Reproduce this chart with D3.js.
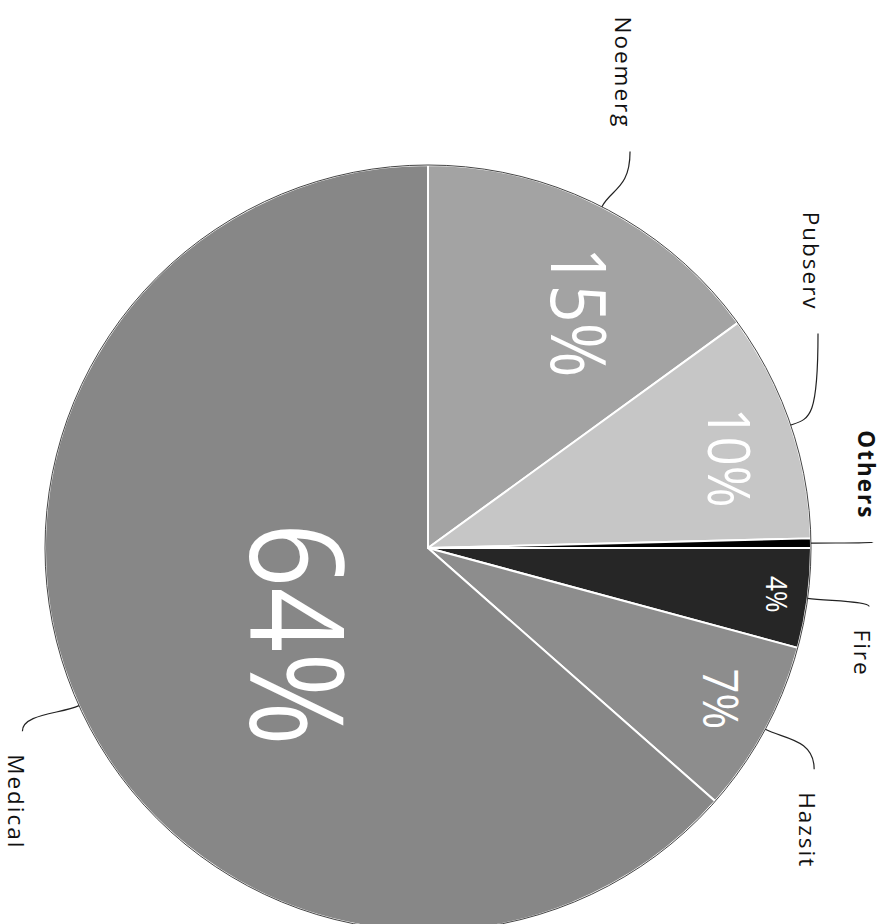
<!DOCTYPE html>
<html>
<head>
<meta charset="utf-8">
<script src="https://cdn.jsdelivr.net/npm/d3@7.9.0/dist/d3.min.js"></script>
<style>
  html, body { margin: 0; background: #fff; }
  svg { display: block; font-family: "Open Sans", sans-serif; }
</style>
</head>
<body>
<div id="chart"></div>
<script>
// slice order, clockwise from 12 o'clock of the (unrotated) pie
const categories = ["Fire", "Hazsit", "Medical", "Noemerg", "Pubserv", "Others"];
const shares = [4.2, 7.3, 63.5, 15.0, 9.6, 0.4];

const width = 883, height = 924;
const cx = 428, cy = 548;
const radius = 383;

const colorScale = d3.scaleOrdinal()
  .domain(categories)
  .range(["#262626", "#8d8d8d", "#878787", "#a3a3a3", "#c6c6c6", "#000000"]);

// placement of the percent labels inside the slices
const pctStyle = {
  Fire:    { r: 0.92, da: 0,   size: 30 },
  Hazsit:  { r: 0.86, da: -1,  size: 50 },
  Medical: { r: 0.41, da: -9,  size: 130 },
  Noemerg: { r: 0.73, da: 5.5, size: 76 },
  Pubserv: { r: 0.82, da: 2,   size: 58 }
};

const data = categories.map((c, i) => ({ name: c, value: shares[i] }));
const total = d3.sum(data, d => d.value);

const svg = d3.select("#chart").append("svg")
  .attr("width", width)
  .attr("height", height);

// whole chart is drawn upright and then turned a quarter clockwise
const g = svg.append("g")
  .attr("transform", `translate(${cx},${cy}) rotate(90)`);

const pie = d3.pie().sort(null).value(d => d.value);
const arcs = pie(data);
const arc = d3.arc().innerRadius(0).outerRadius(radius);

g.selectAll("path.slice")
  .data(arcs)
  .enter()
  .append("path")
  .attr("class", "slice")
  .attr("d", arc)
  .attr("fill", d => colorScale(d.data.name))
  .attr("stroke", "#fff")
  .attr("stroke-width", 2)
  .attr("stroke-linejoin", "round");

// thin dark rim
g.append("circle")
  .attr("r", radius)
  .attr("fill", "none")
  .attr("stroke", "#444")
  .attr("stroke-width", 1);

function polar(a, r) {
  return [r * Math.sin(a), -r * Math.cos(a)];
}

// percent labels
g.selectAll("text.pct")
  .data(arcs.filter(d => pctStyle[d.data.name]))
  .enter()
  .append("text")
  .attr("class", "pct")
  .attr("transform", d => {
    const s = pctStyle[d.data.name];
    const a = (d.startAngle + d.endAngle) / 2 + s.da * Math.PI / 180;
    const [x, y] = polar(a, radius * s.r);
    return `translate(${x},${y}) scale(0.87,1)`;
  })
  .attr("text-anchor", "middle")
  .attr("dy", "0.36em")
  .style("fill", "#fff")
  .style("font-weight", 400)
  .style("font-size", d => pctStyle[d.data.name].size + "px")
  .text(d => d3.format(".0f")(d.data.value / total * 100) + "%");

// outer labels with leader lines
const labelR = radius * 1.162;
const gap = 55;
const labels = arcs.map(d => {
  const a = (d.startAngle + d.endAngle) / 2;
  const side = Math.sin(a) >= 0 ? 1 : -1;
  const p0 = polar(a, radius);
  const p1 = polar(a, labelR);
  return { d, a, side, p0, p1 };
});

[1, -1].forEach(side => {
  const group = labels.filter(l => l.side === side).sort((a, b) => a.p1[1] - b.p1[1]);
  for (let i = 1; i < group.length; i++) {
    if (group[i].p1[1] - group[i - 1].p1[1] < gap) {
      group[i].p1[1] = group[i - 1].p1[1] + gap;
      const y = group[i].p1[1];
      group[i].p1[0] = side * Math.sqrt(Math.max(labelR * labelR - y * y, 0));
    }
  }
});

g.selectAll("path.leader")
  .data(labels)
  .enter()
  .append("path")
  .attr("class", "leader")
  .attr("d", l => {
    const p = d3.path();
    const c1 = polar(l.a, radius + 20);
    p.moveTo(l.p0[0], l.p0[1]);
    p.bezierCurveTo(c1[0], c1[1], c1[0], l.p1[1], l.p1[0], l.p1[1]);
    return p.toString();
  })
  .attr("fill", "none")
  .attr("stroke", "#222")
  .attr("stroke-width", 1.2);

g.selectAll("text.name")
  .data(labels)
  .enter()
  .append("text")
  .attr("class", "name")
  .attr("x", l => l.p1[0] + l.side * 23)
  .attr("y", l => l.p1[1])
  .attr("dy", "0.66em")
  .attr("text-anchor", l => l.side > 0 ? "start" : "end")
  .style("font-size", "22.5px")
  .style("letter-spacing", "2px")
  .style("font-weight", l => l.d.data.name === "Others" ? 700 : 400)
  .style("fill", "#111")
  .text(l => l.d.data.name);
</script>
</body>
</html>
